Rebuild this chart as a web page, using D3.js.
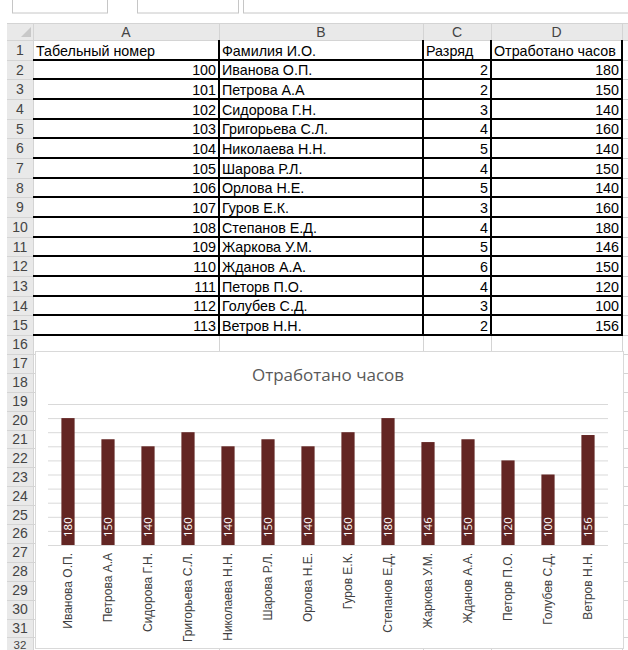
<!DOCTYPE html>
<html>
<head>
<meta charset="utf-8">
<script src="https://cdn.jsdelivr.net/npm/d3@7"></script>
<style>
  body { margin: 0; background: #fff; }
  svg { display: block; }
  .cell { font-family: "Liberation Sans", Arial, sans-serif; font-size: 14.3px; fill: #000; }
  .hdr { font-family: "Liberation Sans", Arial, sans-serif; font-size: 14px; fill: #444; }
</style>
</head>
<body>
<div id="sheet"></div>
<script>
    // column headers of the sheet
    var colLetters = ['A', 'B', 'C', 'D'];
    var headers = ['Табельный номер', 'Фамилия И.О.', 'Разряд', 'Отработано часов'];

    var tabNums = [100, 101, 102, 103, 104, 105, 106, 107, 108, 109, 110, 111, 112, 113];
    var names = ['Иванова О.П.', 'Петрова А.А', 'Сидорова Г.Н.', 'Григорьева С.Л.', 'Николаева Н.Н.',
        'Шарова Р.Л.', 'Орлова Н.Е.', 'Гуров Е.К.', 'Степанов Е.Д.', 'Жаркова У.М.',
        'Жданов А.А.', 'Петорв П.О.', 'Голубев С.Д.', 'Ветров Н.Н.'];
    var ranks = [2, 2, 3, 4, 5, 4, 5, 3, 4, 5, 6, 4, 3, 2];
    var hours = [180, 150, 140, 160, 140, 150, 140, 160, 180, 146, 150, 120, 100, 156];

    var chartTitle = 'Отработано часов';
    var yTicks = [0, 20, 40, 60, 80, 100, 120, 140, 160, 180, 200];

    var W = 628, H = 650;
    var HEAD_TOP = 23, HEAD_BOT = 40, ROWHEAD_L = 7, ROWHEAD_R = 33;
    var colEdges = [33, 219, 423, 491, 622, 700];
    var ROW_COUNT = 32;

    // top of a sheet row (1-based); upper rows are a little taller
    function rowTop(r) {
        if (r <= 16) { return HEAD_BOT + (r - 1) * (335 - HEAD_BOT) / 15; }
        return 335 + (r - 16) * 18.9;
    }

    var svg = d3.select('#sheet').append('svg')
        .attr('width', W)
        .attr('height', H);

    // remnants of the formula bar
    [[12, 107], [137, 238], [243, 640]].forEach(function(b) {
        svg.append('rect')
            .attr('x', b[0] + 0.5).attr('y', -10)
            .attr('width', b[1] - b[0]).attr('height', 23)
            .attr('fill', '#fff').attr('stroke', '#c6c6c6');
    });

    // header backgrounds
    svg.append('rect').attr('x', ROWHEAD_L).attr('y', HEAD_TOP)
        .attr('width', W - ROWHEAD_L).attr('height', HEAD_BOT - HEAD_TOP).attr('fill', '#e9e9e9');
    svg.append('rect').attr('x', ROWHEAD_L).attr('y', HEAD_TOP)
        .attr('width', ROWHEAD_R - ROWHEAD_L).attr('height', H - HEAD_TOP).attr('fill', '#e9e9e9');

    // corner triangle
    svg.append('path')
        .attr('d', 'M31,27 L31,37 L21,37 Z')
        .attr('fill', '#c8c8c8');

    var rows = d3.range(1, ROW_COUNT + 1);

    // thin grid lines
    var grid = svg.append('g').attr('stroke', '#d4d4d4').attr('stroke-width', 1);
    rows.concat([ROW_COUNT + 1]).forEach(function(r) {
        var y = Math.round(rowTop(r)) + 0.5;
        grid.append('line').attr('x1', ROWHEAD_L).attr('x2', W).attr('y1', y).attr('y2', y);
    });
    colEdges.forEach(function(x) {
        grid.append('line').attr('x1', x + 0.5).attr('x2', x + 0.5).attr('y1', HEAD_TOP).attr('y2', H);
    });
    grid.append('line').attr('x1', ROWHEAD_L).attr('x2', W).attr('y1', HEAD_TOP + 0.5).attr('y2', HEAD_TOP + 0.5);

    // column letters
    svg.selectAll('text.colL').data(colLetters).enter().append('text')
        .attr('class', 'hdr colL')
        .attr('x', function(d, i) { return (colEdges[i] + colEdges[i + 1]) / 2; })
        .attr('y', HEAD_BOT - 3)
        .attr('text-anchor', 'middle')
        .text(function(d) { return d; });

    // row numbers (the last one sits on the window edge, a bit smaller)
    svg.selectAll('text.rowN').data(rows).enter().append('text')
        .attr('class', 'hdr rowN')
        .attr('x', 20)
        .attr('y', function(r) { return r === ROW_COUNT ? H - 1 : (rowTop(r) + rowTop(r + 1)) / 2 + 5; })
        .attr('text-anchor', 'middle')
        .style('font-size', function(r) { return r === ROW_COUNT ? '11.5px' : null; })
        .text(function(r) { return r; });

    // header cells
    svg.selectAll('text.head').data(headers).enter().append('text')
        .attr('class', 'cell head')
        .attr('x', function(d, i) { return colEdges[i] + 3; })
        .attr('y', rowTop(2) - 4)
        .text(function(d) { return d; });

    // data cells
    var tableRows = tabNums.map(function(n, i) {
        return [n, names[i], ranks[i], hours[i]];
    });
    tableRows.forEach(function(rowVals, i) {
        var yb = rowTop(i + 3) - 4;
        rowVals.forEach(function(v, c) {
            var isNum = typeof v === 'number';
            svg.append('text')
                .attr('class', 'cell')
                .attr('x', isNum ? colEdges[c + 1] - 3 : colEdges[c] + 3)
                .attr('y', yb)
                .attr('text-anchor', isNum ? 'end' : 'start')
                .text(v);
        });
    });

    // thick table borders
    var borders = svg.append('g').attr('stroke', '#000').attr('stroke-width', 2);
    d3.range(2, 17).forEach(function(r) {
        var y = Math.round(rowTop(r));
        borders.append('line').attr('x1', colEdges[0]).attr('x2', colEdges[4] + 1).attr('y1', y).attr('y2', y);
    });
    colEdges.slice(1, 5).forEach(function(x) {
        borders.append('line').attr('x1', x).attr('x2', x).attr('y1', HEAD_BOT).attr('y2', Math.round(rowTop(16)));
    });

    // ---- chart ----
    var CHART = {left: 35, top: 351, right: 623, bottom: 648};
    var PLOT = {left: 48, right: 608, top: 404, bottom: 545};

    svg.append('rect')
        .attr('x', CHART.left + 0.5).attr('y', CHART.top + 0.5)
        .attr('width', CHART.right - CHART.left).attr('height', CHART.bottom - CHART.top)
        .attr('fill', '#fff').attr('stroke', '#d9d9d9');

    svg.append('text')
        .attr('x', (CHART.left + CHART.right) / 2 - 1)
        .attr('y', 381)
        .attr('text-anchor', 'middle')
        .attr('font-family', '"Open Sans", sans-serif')
        .attr('font-size', 17)
        .attr('fill', '#595959')
        .text(chartTitle);

    var x = d3.scaleBand()
        .domain(names)
        .range([PLOT.left, PLOT.right])
        .paddingInner(0.67)
        .paddingOuter(0.335);

    var y = d3.scaleLinear()
        .domain([0, 200])
        .range([PLOT.bottom, PLOT.top]);

    // gridlines
    var yAxis = d3.axisLeft(y)
        .tickValues(yTicks)
        .tickSize(-(PLOT.right - PLOT.left))
        .tickFormat('');
    svg.append('g')
        .attr('transform', 'translate(' + PLOT.left + ',0)')
        .call(yAxis)
        .call(function(g) {
            g.select('.domain').remove();
            g.selectAll('.tick line').attr('stroke', '#d9d9d9');
        });

    // bars
    svg.selectAll('rect.bar').data(hours).enter().append('rect')
        .attr('class', 'bar')
        .attr('x', function(d, i) { return x(names[i]); })
        .attr('y', function(d) { return y(d); })
        .attr('width', x.bandwidth())
        .attr('height', function(d) { return y(0) - y(d); })
        .attr('fill', '#632523');

    // value labels inside base
    svg.selectAll('text.val').data(hours).enter().append('text')
        .attr('class', 'val')
        .attr('transform', function(d, i) {
            return 'translate(' + (x(names[i]) + x.bandwidth() / 2 + 4) + ',' + (y(0) - 8) + ') rotate(-90)';
        })
        .attr('font-family', '"Open Sans", sans-serif')
        .attr('font-size', 11.5)
        .attr('fill', '#fff')
        .text(function(d) { return d; });

    // category axis
    var xAxis = d3.axisBottom(x).tickSize(0).tickPadding(0);
    svg.append('g')
        .attr('transform', 'translate(0,' + PLOT.bottom + ')')
        .call(xAxis)
        .call(function(g) {
            g.select('.domain').remove();
            g.selectAll('.tick text')
                .attr('font-family', '"Liberation Sans", Arial, sans-serif')
                .attr('font-size', 12)
                .attr('fill', '#404040')
                .attr('text-anchor', 'end')
                .attr('dy', '0.35em')
                .attr('transform', 'translate(0,8) rotate(-90)')
                .attr('y', 0)
                .attr('x', 0);
        });
</script>
</body>
</html>
